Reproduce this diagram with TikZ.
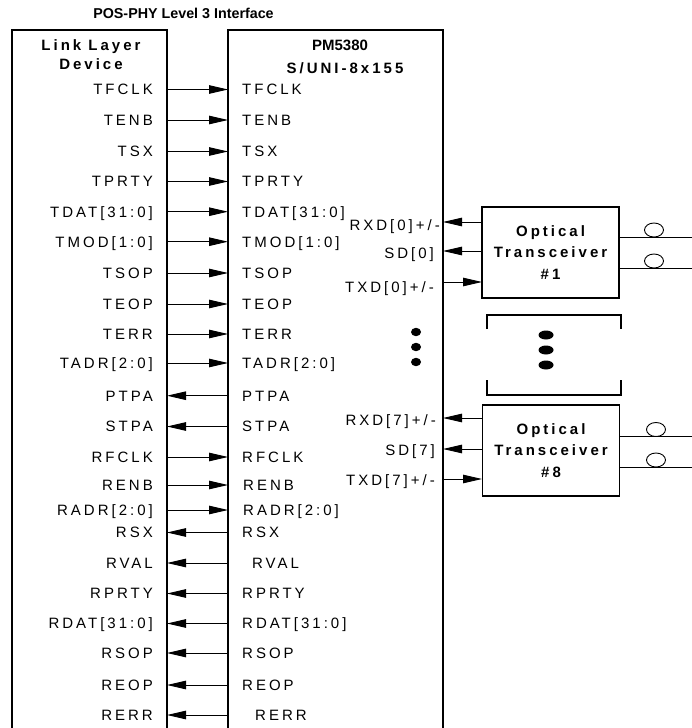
\documentclass[tikz,border=0pt]{standalone}
\usepackage{fontspec}
\setmainfont{Liberation Sans}
\usetikzlibrary{arrows.meta}
\begin{document}
\begin{tikzpicture}[x=1pt,y=-1pt,
  sigfont/.style={font=\fontsize{15}{17}\selectfont\addfontfeatures{LetterSpace=20}},
  boldfont/.style={font=\fontsize{15}{17}\selectfont\bfseries\addfontfeatures{LetterSpace=20}},
  plainbold/.style={font=\fontsize{15}{17}\selectfont\bfseries},
  lablft/.style={sigfont,inner sep=0pt,anchor=base east},
  labrgt/.style={sigfont,inner sep=0pt,anchor=base west},
  frame/.style={line width=1.2pt},
  wire/.style={line width=0.9pt},
  arr/.style={wire,-{Triangle[length=19pt,width=8.5pt]}},
  tbox/.style={draw,frame,minimum width=137pt,minimum height=91pt,align=center,
    inner sep=0pt,font=\fontsize{15}{21.5}\selectfont\bfseries\addfontfeatures{LetterSpace=20}},
  brk/.style={line width=2.6pt},
  fib/.style={line width=0.9pt}]
\useasboundingbox (0,0) rectangle (692,728);
% title
\node[font=\fontsize{14.3}{16}\selectfont\bfseries,inner sep=0pt,anchor=base] (title) at (183.5,18) {POS-PHY Level 3 Interface};
% link layer box
\coordinate (lbl) at (12,730);
\coordinate (ltl) at (12,30);
\coordinate (ltr) at (167,30);
\coordinate (lbr) at (167,730);
\draw[frame] (lbl) -- (ltl) -- (ltr) -- (lbr);
\node[boldfont,inner sep=0pt,anchor=base] (lname1) at (91,50) {Link Layer};
\node[boldfont,inner sep=0pt,anchor=base] (lname2) at (91,69) {Device};
% PM5380 box
\coordinate (pbl) at (228,730);
\coordinate (ptl) at (228,30);
\coordinate (ptr) at (443,30);
\coordinate (pbr) at (443,730);
\draw[frame] (pbl) -- (ptl) -- (ptr) -- (pbr);
\node[plainbold,inner sep=0pt,anchor=base] (pname1) at (340,50) {PM5380};
\node[boldfont,inner sep=0pt,anchor=base] (pname2) at (345,73) {S/UNI-8x155};
% signals
\foreach \i/\y/\ll/\rl/\d/\rx in {
  1/89.5/TFCLK/TFCLK/r/242,
  2/120/TENB/TENB/r/242,
  3/151.5/TSX/TSX/r/242,
  4/181.5/TPRTY/TPRTY/r/242,
  5/211.7/TDAT[31:0]/TDAT[31:0]/r/242,
  6/241.7/TMOD[1:0]/TMOD[1:0]/r/242,
  7/273/TSOP/TSOP/r/242,
  8/304/TEOP/TEOP/r/242,
  9/334/TERR/TERR/r/242,
  10/363/TADR[2:0]/TADR[2:0]/r/242,
  11/395.7/PTPA/PTPA/l/242,
  12/426.5/STPA/STPA/l/242,
  13/457/RFCLK/RFCLK/r/242,
  14/485/RENB/RENB/r/243,
  15/510/RADR[2:0]/RADR[2:0]/r/243,
  16/532.5/RSX/RSX/l/242,
  17/563/RVAL/RVAL/l/252,
  18/593.5/RPRTY/RPRTY/l/242,
  19/623.5/RDAT[31:0]/RDAT[31:0]/l/242,
  20/653/RSOP/RSOP/l/242,
  21/685/REOP/REOP/l/242,
  22/715/RERR/RERR/l/255}{
  \coordinate (ls\i) at (167,\y);
  \coordinate (ps\i) at (228,\y);
  \node[lablft] (ln\i) at (153,\y+5.3) {\ll};
  \node[labrgt] (rn\i) at (\rx,\y+5.3) {\rl};
  \if r\d
    \draw[arr] (ls\i) -- (ps\i);
  \else
    \draw[arr] (ps\i) -- (ls\i);
  \fi
}
% dots in PM box
\fill (416,332) ellipse (5 and 4.2);
\fill (416,347) ellipse (5 and 4.2);
\fill (416,362) ellipse (5 and 4.2);
% transceiver 1
\node[tbox] (ot1) at (550.5,252.5) {Optical\\Transceiver\\\#1};
\coordinate (ot1a) at (482,222);
\coordinate (ot1b) at (482,251);
\coordinate (ot1c) at (482,282);
\coordinate (pm1a) at (443,222);
\coordinate (pm1b) at (443,251);
\coordinate (pm1c) at (443,282);
\draw[arr] (ot1a) -- (pm1a);
\draw[arr] (ot1b) -- (pm1b);
\draw[arr] (pm1c) -- (ot1c);
\node[sigfont,inner sep=0pt,anchor=base east] (rxd0) at (440,230) {RXD[0]+/-};
\node[sigfont,inner sep=0pt,anchor=base east] (sd0) at (434,258) {SD[0]};
\node[sigfont,inner sep=0pt,anchor=base east] (txd0) at (434,292) {TXD[0]+/-};
\coordinate (f1a) at (619,237);
\coordinate (f1ae) at (692,237);
\coordinate (f1b) at (619,268);
\coordinate (f1be) at (692,268);
\draw[fib] (f1a) -- (f1ae);
\draw[fib] (f1b) -- (f1be);
\draw[fib] (654,230) ellipse (9.5 and 7);
\draw[fib] (654,261) ellipse (9.5 and 7);
% bracket with dots
\draw[brk] (487,329) -- (487,315) -- (621,315) -- (621,329);
\draw[brk] (487,380) -- (487,395) -- (621,395) -- (621,380);
\fill (546,335) ellipse (7.5 and 4.5);
\fill (546,350) ellipse (7.5 and 4.5);
\fill (546,365) ellipse (7.5 and 4.5);
% transceiver 8
\node[tbox] (ot8) at (551,450.5) {Optical\\Transceiver\\\#8};
\coordinate (ot8a) at (482,418);
\coordinate (ot8b) at (482,449);
\coordinate (ot8c) at (482,479);
\coordinate (pm8a) at (443,418);
\coordinate (pm8b) at (443,449);
\coordinate (pm8c) at (443,479);
\draw[arr] (ot8a) -- (pm8a);
\draw[arr] (ot8b) -- (pm8b);
\draw[arr] (pm8c) -- (ot8c);
\node[sigfont,inner sep=0pt,anchor=base east] (rxd7) at (436,425) {RXD[7]+/-};
\node[sigfont,inner sep=0pt,anchor=base east] (sd7) at (435,455) {SD[7]};
\node[sigfont,inner sep=0pt,anchor=base east] (txd7) at (435,485) {TXD[7]+/-};
\coordinate (f8a) at (620,436);
\coordinate (f8ae) at (692,436);
\coordinate (f8b) at (620,467);
\coordinate (f8be) at (692,467);
\draw[fib] (f8a) -- (f8ae);
\draw[fib] (f8b) -- (f8be);
\draw[fib] (656,429.5) ellipse (9.5 and 7);
\draw[fib] (656,460) ellipse (9.5 and 7);
\end{tikzpicture}
\end{document}
